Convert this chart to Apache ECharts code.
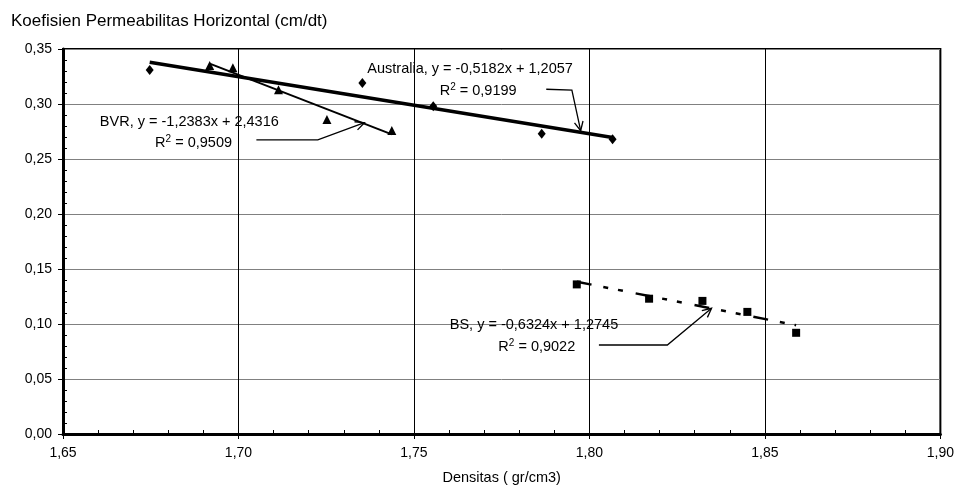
<!DOCTYPE html>
<html><head><meta charset="utf-8">
<script src="https://cdn.jsdelivr.net/npm/echarts@6/dist/echarts.min.js"></script>
<style>html,body{margin:0;padding:0;background:#fff}#c{width:957px;height:493px}</style>
</head><body><div id="c"></div>
<script>
// ---- data ----
const australiaX = [1.6747, 1.7353, 1.7555, 1.7864, 1.8066];
const australiaY = [0.331, 0.319, 0.298, 0.273, 0.268];
const bvrX = [1.6918, 1.6984, 1.7114, 1.7252, 1.7437];
const bvrY = [0.335, 0.333, 0.313, 0.286, 0.276];
const bsX = [1.7964, 1.8170, 1.8322, 1.8450, 1.8589];
const bsY = [0.136, 0.123, 0.121, 0.111, 0.092];
// trendline coefficients [slope, intercept] and R²
const australiaFit = [-0.5182, 1.2057, 0.9199];
const bvrFit = [-1.2383, 2.4316, 0.9509];
const bsFit = [-0.6324, 1.2745, 0.9022];
const seriesNames = ['Australia', 'BVR', 'BS'];
const xTicks = [1.65, 1.70, 1.75, 1.80, 1.85, 1.90];
const yTicks = [0.00, 0.05, 0.10, 0.15, 0.20, 0.25, 0.30, 0.35];
const titleText = 'Koefisien Permeabilitas Horizontal (cm/dt)';
const xName = 'Densitas ( gr/cm3)';

// annotation placement (data coordinates): [line1 center, line2 center, arrow path...]
const australiaNote = { l1: [1.7660, 0.3315], l2: [1.7683, 0.3121], path: [[1.7877, 0.3134], [1.7950, 0.3127], [1.7975, 0.2757]] };
const bvrNote = { l1: [1.6860, 0.2839], l2: [1.6872, 0.2645], path: [[1.7051, 0.2673], [1.7226, 0.2673], [1.7359, 0.2830]] };
const bsNote = { l1: [1.7842, 0.0991], l2: [1.7850, 0.0794], path: [[1.8027, 0.0809], [1.8222, 0.0809], [1.8348, 0.1143]] };

const fmt = (v, d) => v.toFixed(d).replace('.', ',');
const fmtSigned = v => (v < 0 ? '-' : '') + fmt(Math.abs(v), 4);

function pairs(xs, ys) { return xs.map((x, i) => [x, ys[i]]); }
function trend(xs, fit) {
  const x0 = Math.min(...xs), x1 = Math.max(...xs);
  return [[x0, fit[0] * x0 + fit[1]], [x1, fit[0] * x1 + fit[1]]];
}
const fits = [australiaFit, bvrFit, bsFit];
const notes = [australiaNote, bvrNote, bsNote];
const FONT = "'Liberation Sans', Arial, sans-serif";
const NOTE_FS = 14.5;

const chart = echarts.init(document.getElementById('c'), null, { renderer: 'canvas' });

const option = {
  backgroundColor: '#fff',
  animation: false,
  title: {
    text: titleText, left: 6, top: 8,
    textStyle: { fontFamily: FONT, fontSize: 17, fontWeight: 'normal', color: '#000' }
  },
  grid: { left: 63, top: 49, right: 15, bottom: 59, show: true, borderColor: '#000', borderWidth: 2, backgroundColor: 'transparent' },
  xAxis: [
    {
      type: 'value', min: xTicks[0], max: xTicks[xTicks.length - 1], interval: 0.05,
      name: xName, nameLocation: 'middle', nameGap: 36,
      nameTextStyle: { fontFamily: FONT, fontSize: 14.5, color: '#000' },
      axisLine: { show: true, lineStyle: { color: '#000', width: 3 } },
      axisTick: { show: true, length: 5, lineStyle: { color: '#000', width: 1 } },
      axisLabel: { fontFamily: FONT, fontSize: 14, color: '#000', margin: 12, formatter: v => fmt(v, 2) },
      splitLine: { show: true, lineStyle: { color: '#000', width: 1 } }
    },
    {
      type: 'value', min: xTicks[0], max: xTicks[xTicks.length - 1], interval: 0.05, position: 'bottom',
      axisLine: { show: false }, axisLabel: { show: false }, splitLine: { show: false },
      axisTick: { show: false, inside: true },
      minorTick: { show: true, splitNumber: 5, length: 4, lineStyle: { color: '#000', width: 1 } }
    }
  ],
  yAxis: [
    {
      type: 'value', min: yTicks[0], max: yTicks[yTicks.length - 1], interval: 0.05,
      axisLine: { show: true, lineStyle: { color: '#000', width: 3 } },
      axisTick: { show: true, length: 5, lineStyle: { color: '#000', width: 1 } },
      axisLabel: { fontFamily: FONT, fontSize: 14, color: '#000', margin: 11, formatter: v => fmt(v, 2) },
      splitLine: { show: true, lineStyle: { color: '#808080', width: 1 } }
    },
    {
      type: 'value', min: yTicks[0], max: yTicks[yTicks.length - 1], interval: 0.05, position: 'left',
      axisLine: { show: false }, axisLabel: { show: false }, splitLine: { show: false },
      axisTick: { show: false, inside: true },
      minorTick: { show: true, splitNumber: 5, length: 4, lineStyle: { color: '#000', width: 1 } }
    }
  ],
  series: [
    { name: 'Australia', type: 'scatter', data: pairs(australiaX, australiaY), symbol: 'diamond', symbolSize: [8, 10], itemStyle: { color: '#000', opacity: 1 }, z: 5 },
    { name: 'BVR', type: 'scatter', data: pairs(bvrX, bvrY), symbol: 'triangle', symbolSize: [9, 9], itemStyle: { color: '#000', opacity: 1 }, z: 5 },
    { name: 'BS', type: 'scatter', data: pairs(bsX, bsY), symbol: 'rect', symbolSize: [8, 8], itemStyle: { color: '#000', opacity: 1 }, z: 5 },
    { name: 'Australia trend', type: 'line', data: trend(australiaX, australiaFit), symbol: 'none', lineStyle: { color: '#000', width: 3.5 }, z: 4 },
    { name: 'BVR trend', type: 'line', data: trend(bvrX, bvrFit), symbol: 'none', lineStyle: { color: '#000', width: 2 }, z: 4 },
    { name: 'BS trend', type: 'line', data: trend(bsX, bsFit), symbol: 'none', lineStyle: { color: '#000', width: 2.5, type: [15, 12, 5, 10, 5, 13] }, z: 4 },
    {
      name: 'notes', type: 'custom', data: [0, 1, 2], clip: false, z: 6,
      renderItem: function (params, api) {
        const i = params.dataIndex;
        const n = notes[i], f = fits[i];
        const p1 = api.coord(n.l1), p2 = api.coord(n.l2);
        const pts = n.path.map(p => api.coord(p));
        const a = pts[pts.length - 1], b = pts[pts.length - 2];
        const ang = Math.atan2(a[1] - b[1], a[0] - b[0]);
        const L = 10, w = 0.45;
        const h1 = [a[0] - L * Math.cos(ang - w), a[1] - L * Math.sin(ang - w)];
        const h2 = [a[0] - L * Math.cos(ang + w), a[1] - L * Math.sin(ang + w)];
        const line1 = seriesNames[i] + ', y = ' + fmtSigned(f[0]) + 'x + ' + fmt(f[1], 4);
        return {
          type: 'group',
          children: [
            { type: 'polyline', shape: { points: pts }, style: { stroke: '#000', lineWidth: 1.3, fill: null } },
            { type: 'polyline', shape: { points: [h1, a, h2] }, style: { stroke: '#000', lineWidth: 1.3, fill: null } },
            { type: 'text', x: p1[0], y: p1[1], style: { text: line1, font: NOTE_FS + 'px ' + FONT, fill: '#000', align: 'center', verticalAlign: 'middle' } },
            { type: 'text', x: p2[0], y: p2[1], style: {
                text: '{n|R}{s|2}{n| = ' + fmt(f[2], 4) + '}', align: 'center', verticalAlign: 'middle', fill: '#000',
                rich: { n: { fontFamily: FONT, fontSize: NOTE_FS, color: '#000', lineHeight: 17 }, s: { fontFamily: FONT, fontSize: 10, color: '#000', verticalAlign: 'top', lineHeight: 17 } }
              } }
          ]
        };
      }
    }
  ]
};
chart.setOption(option);
</script>
</body></html>
